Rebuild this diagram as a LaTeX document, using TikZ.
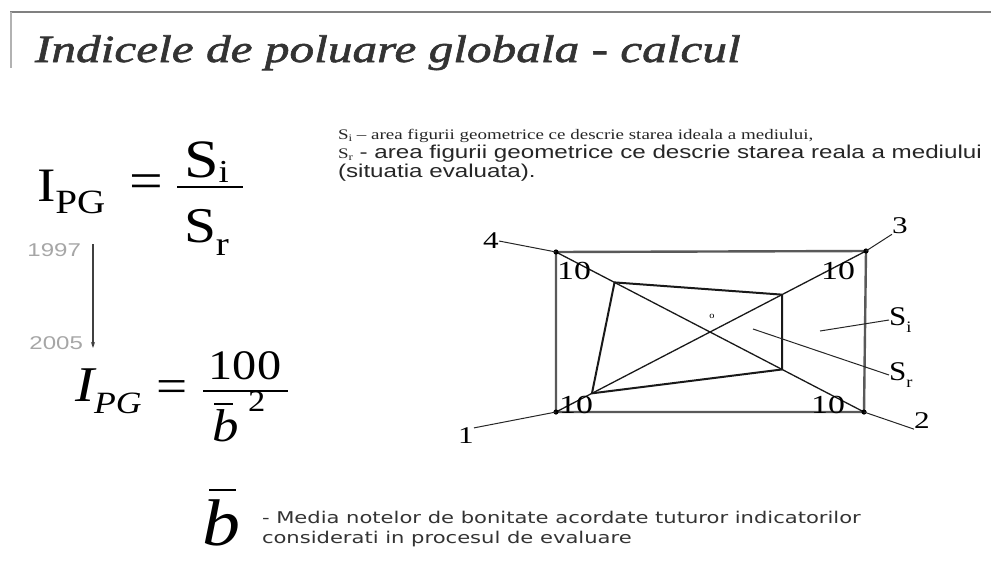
\documentclass[tikz,border=0pt]{standalone}
\usepackage{fontspec}
\setmainfont{Liberation Serif}
\newfontfamily\slideserif{Liberation Serif}[FakeStretch=1.3]
\newfontfamily\titlefont{Liberation Serif}[FakeStretch=1.28, FakeBold=1.6]
\newfontfamily\slidesans{Liberation Sans}[FakeStretch=1.3]
\newfontfamily\formserif{Liberation Serif}[FakeStretch=1.15]
\newfontfamily\notefont{DejaVu Sans}[FakeStretch=1.3]
\newcommand\sz[1]{\fontsize{#1}{#1}\selectfont}
\usetikzlibrary{positioning, calc, arrows.meta}

\begin{document}
\begin{tikzpicture}[
		x=1pt, y=-1pt,
		txt/.style={inner sep=0pt, outer sep=0pt},
		num/.style={inner sep=0pt, font={\slideserif\sz{24}}},
		ten/.style={inner sep=0pt, font={\slideserif\sz{26}}},
		leader/.style={line width=1pt, black!85},
		frame/.style={line width=2.4pt, black!65},
		diag/.style={line width=1.3pt, black!90},
		quad/.style={line width=2pt, black!90, line join=round},
		bar/.style={line width=2.4pt}
		]
		\useasboundingbox (0,0) rectangle (991,571);
		
		% Title
		\draw[black!50, line width=2pt] (10,12) -- (991,12);
		\draw[black!30, line width=1.2pt] (11,12) -- (11,68);
		\node (title) [txt, anchor=base west, font={\titlefont\itshape\sz{38.5}}, text=black!80] at (35,62) {Indicele de poluare globala - calcul};
		
		% First formula
		\node (ipg) [txt, anchor=base west, font={\formserif\sz{48}}] at (37,201) {I\raisebox{-0.26em}{\sz{34}PG}};
		\node (eqa) [txt, font={\formserif\sz{52}}] at (146,187) {=};
		\draw[bar] (177,187) -- (243,187);
		\node (si) [txt, anchor=base west, font={\formserif\sz{54}}] at (184,177) {S\raisebox{-0.1em}{\sz{32}i}};
		\node (sr) [txt, anchor=base west, font={\formserif\sz{50}}] at (184,242) {S\raisebox{-0.26em}{\sz{34}r}};
		
		% Years
		\node (y97) [txt, anchor=east, font={\slidesans\sz{18.5}}, text=black!35] at (81,250) {1997};
		\node (y05) [txt, anchor=east, font={\slidesans\sz{18.5}}, text=black!35] at (83,343) {2005};
		\coordinate (arrtop) at (93,244);
		\coordinate (arrbot) at (93,348);
		\draw[-{Stealth[length=6pt,width=4pt]}, line width=1.3pt, black!75] (arrtop) -- (arrbot);
		
		% Second formula
		\node (ipgb) [txt, anchor=base west, font={\formserif\itshape\sz{50}}] at (75,401) {I\raisebox{-0.24em}{\sz{31}PG}};
		\node (eqb) [txt, font={\formserif\sz{48}}] at (172,392) {=};
		\draw[line width=2pt] (203,391) -- (288,391);
		\node (hundred) [txt, anchor=base, font={\formserif\sz{42}}] at (245,379) {100};
		\node (bsq) [txt, anchor=base west, font={\formserif\itshape\sz{46}}] at (212,441) {b};
		\draw[line width=1.8pt] (214,404) -- (233,404);
		\node (sq) [txt, anchor=base west, font={\formserif\sz{30}}] at (248,411) {2};
		
		% Definitions
		\node (defsi) [txt, anchor=base west, font={\slideserif\sz{14.6}}, text=black!85] at (338,139) {S\raisebox{-0.2em}{\sz{10}i} – area figurii geometrice ce descrie starea ideala a mediului,};
		\node (defsr) [txt, anchor=base west, font={\slidesans\sz{18.6}}, text=black!85] at (338,158) {{\slideserif\sz{14.6}S\raisebox{-0.2em}{\sz{10}r}} - area figurii geometrice ce descrie starea reala a mediului};
		\node (defev) [txt, anchor=base west, font={\slidesans\sz{18.6}}, text=black!85] at (338,177) {(situatia evaluata).};
		
		% Rectangle with the real figure
		\coordinate (c1) at (556,412);
		\coordinate (c2) at (864,412);
		\coordinate (c3) at (866,251);
		\coordinate (c4) at (556,252);
		\draw[frame] (c1) -- (c2) -- (c3) -- (c4) -- cycle;
		\draw[diag] (c4) -- (c2);
		\draw[diag] (c1) -- (c3);
		\coordinate (q1) at ($(c1)!0.116!(c3)$);
		\coordinate (q2) at ($(c4)!0.734!(c2)$);
		\coordinate (q3) at ($(c1)!0.729!(c3)$);
		\coordinate (q4) at ($(c4)!0.19!(c2)$);
		\draw[quad] (q1) -- (q2) -- (q3) -- (q4) -- cycle;
		\foreach \c in {c1,c2,c3,c4}
		\fill (\c) circle (2.6pt);
		\node (ctr) [txt, font={\formserif\sz{9}}] at (712,316) {o};
		
		% Grades
		\node (t4) [ten] at (574,271) {10};
		\node (t3) [ten] at (838,271) {10};
		\node (t1) [ten] at (576,405) {10};
		\node (t2) [ten] at (828,405) {10};
		
		% Corner labels
		\node (n4) [num] at (491,241) {4};
		\node (n3) [num] at (900,226) {3};
		\node (n1) [num] at (466,436) {1};
		\node (n2) [num] at (922,421) {2};
		\draw[leader] (n4.east) -- (c4);
		\draw[leader] (c3) -- (n3.south west);
		\draw[leader] (n1.north east) -- (c1);
		\draw[leader] (c2) -- (n2.south west);
		
		% Areas
		\node (lsi) [txt, anchor=west, font={\formserif\sz{27}}] at (889,320) {S\raisebox{-0.25em}{\sz{16}i}};
		\node (lsr) [txt, anchor=west, font={\formserif\sz{27}}] at (889,375) {S\raisebox{-0.25em}{\sz{16}r}};
		\coordinate (pi) at (820,331);
		\coordinate (pr) at (753,329);
		\draw[leader] (pi) -- (lsi.west);
		\draw[leader] (pr) -- (lsr.west);
		
		% Mean grade
		\node (bmean) [txt, anchor=base west, font={\formserif\itshape\sz{66}}] at (202,545) {b};
		\draw[bar] (209,490) -- (236,490);
		\node (note) [txt, anchor=north west, align=left, font={\notefont\fontsize{16.2}{20}\selectfont}, text=black!80] at (262,511) {- Media notelor de bonitate acordate tuturor indicatorilor\\considerati in procesul de evaluare};
		
	\end{tikzpicture}
\end{document}
